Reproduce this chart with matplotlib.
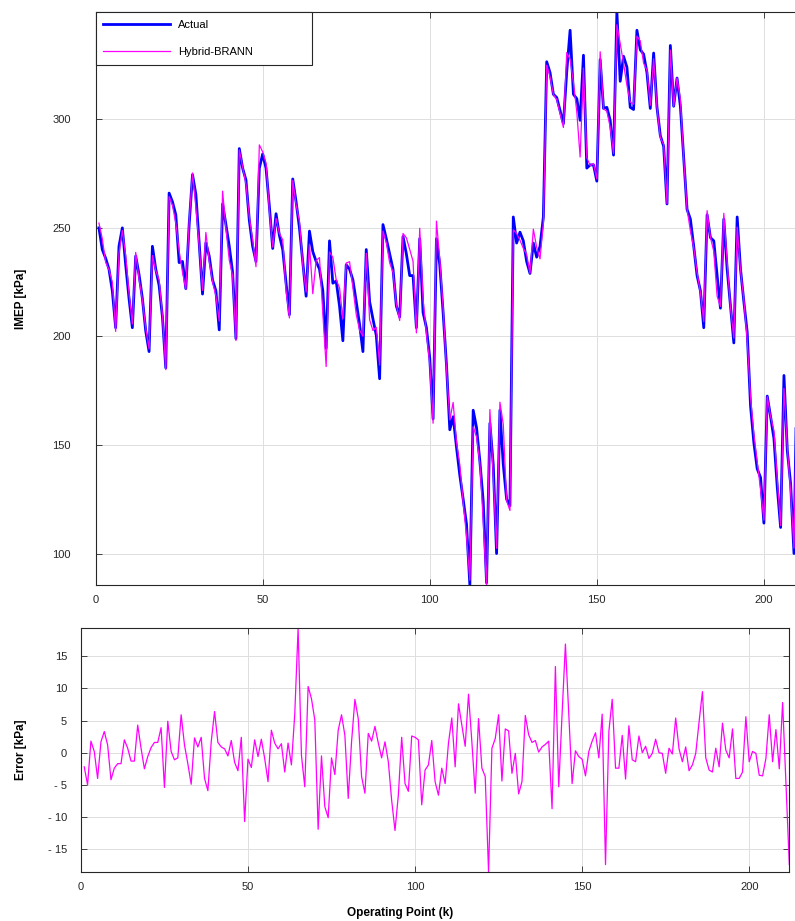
import numpy as np
import matplotlib.pyplot as plt

plt.rcParams['font.family'] = ['Liberation Sans', 'DejaVu Sans']

# measured IMEP per operating point [kPa]
actual_imep = [
    250, 240, 236, 231, 221, 204, 241.5, 250, 233, 217.5,
    204, 237, 228.5, 217.5, 202.5, 193, 241.5, 231, 223.5, 209,
    185.5, 266, 262, 256, 234, 234.5, 222, 251.5, 274.5, 265.5,
    243, 219.5, 243, 237, 226, 221, 203, 261, 251.5, 241.5,
    229.5, 199, 286.5, 277.5, 272, 253.5, 241.5, 234.5, 277.5, 284,
    277.5, 260, 240.5, 256.5, 246.5, 240, 224.5, 210, 272.5, 262,
    250, 234.5, 218.5, 248.5, 239, 234.5, 231, 221, 194.5, 244,
    224.5, 225.5, 214, 198, 233, 231, 226, 216, 205.5, 193,
    240, 216, 208, 200.5, 180.5, 251.5, 245, 238, 231, 214,
    209, 246, 238, 228, 228, 204, 245, 211, 204, 190,
    162, 245, 233, 211, 187, 157, 163, 149, 136, 125,
    113.5, 85.5, 166, 158, 142.5, 124, 86.5, 160, 141, 100,
    166, 141, 125, 122, 255, 243, 248, 244, 234.5, 229,
    243, 236.5, 241.5, 255, 326.5, 321.5, 311.5, 310, 304, 298,
    322, 341, 311.5, 309.5, 299.5, 329.5, 277.5, 279, 279, 271.5,
    327.5, 305, 305.5, 299.5, 283.5, 349.5, 317.5, 329, 324, 305.5,
    304.5, 341, 332, 330, 321.5, 305, 330.5, 305.5, 292.5, 287.5,
    261, 334, 306, 319, 306, 282.5, 258.5, 254, 241.5, 228,
    221, 204, 256, 245.5, 244, 228, 213, 254, 231, 214,
    197, 255, 231, 216, 202, 168, 151, 139, 135, 114,
    172.5, 163, 153, 130.5, 112, 182, 147.5, 132, 100, 195,
    168, 130,
]

# model error (actual - Hybrid-BRANN) [kPa]
error_kpa = [
    -2.2, -5.0, 1.8, 0.2, -4.0, 1.7, 3.3, 1.2, -4.2, -2.4,
    -1.7, -1.7, 2.0, 0.7, -1.3, -1.3, 4.3, 0.7, -2.5, -0.6,
    0.8, 1.6, 1.6, 3.9, -5.4, 4.9, 0.2, -1.1, -0.8, 5.9,
    1.2, -1.7, -4.9, 2.3, 0.9, 2.4, -4.0, -5.9, 1.7, 6.4,
    1.6, 0.9, 0.6, -0.5, 1.9, -1.5, -2.8, 2.4, -10.7, -1.0,
    -2.3, 2.0, -0.6, 2.1, -0.9, -4.5, 3.5, 1.5, 0.6, 1.4,
    -3.0, 1.5, -1.9, 6.0, 19.35, -0.4, -5.3, 10.3, 8.4, 5.1,
    -11.9, -0.5, -8.4, -10.1, -0.8, -3.4, 3.5, 5.9, 2.7, -7.1,
    1.7, 8.3, 5.3, -3.7, -6.3, 3.0, 1.8, 4.1, 1.5, -0.8,
    1.7, -1.4, -7.4, -12.1, -6.6, 2.4, -4.8, -6.0, 2.6, 2.4,
    2.0, -8.1, -2.7, -1.9, 1.9, -4.5, -6.6, -2.4, -4.8, 1.5,
    5.4, -2.2, 7.6, 4.3, 1.0, 9.1, 1.7, -6.3, 5.3, -2.4,
    -3.7, -18.55, 0.7, 2.2, 5.9, -4.4, 3.7, 3.4, -3.2, -0.1,
    -6.4, -4.5, 5.8, 2.8, 1.6, 1.9, 0.1, 0.9, 1.3, 1.8,
    -8.7, 13.4, -5.3, 6.0, 16.9, 5.9, -4.8, 0.3, -0.6, -1.0,
    -3.6, 0.2, 1.8, 3.1, -0.8, 6.0, -17.4, 3.3, 8.3, -2.4,
    -2.4, 2.7, -4.1, 4.2, -1.1, -1.4, 2.6, 0.0, 1.0, -0.9,
    -0.1, 2.1, 0.0, -0.1, -3.2, 0.7, -0.2, 5.4, 0.6, -1.4,
    0.9, -2.8, -1.9, -0.1, 4.8, 9.5, -0.8, -2.7, -3.0, 0.7,
    -2.2, 4.6, 0.4, -0.8, 3.7, -4.0, -4.0, -3.0, 5.6, -1.4,
    0.2, -0.1, -3.5, -3.6, -0.9, 5.9, -1.4, 3.6, -2.5, 7.8,
    -4.8, -17.4,
]

x_ticks = [0, 50, 100, 150, 200]
imep_ticks = [100, 150, 200, 250, 300]
err_ticks = [-15, -10, -5, 0, 5, 10, 15]
err_ticklabels = ['- 15', '- 10', '- 5', '0', '5', '10', '15']

actual = np.array(actual_imep)
err = np.array(error_kpa)
hybrid = actual - err
k = np.arange(1, len(actual) + 1)

W, H = 795, 921
AX_COL = '#262626'


def box(left, top, right, bottom):
    return [left / W, 1 - bottom / H, (right - left) / W, (bottom - top) / H]


def style(ax, ypad):
    ax.grid(True, color='#dedede', lw=0.7)
    ax.set_axisbelow(True)
    ax.tick_params(direction='in', top=True, right=True, length=4, width=0.6,
                   color=AX_COL, labelsize=8, labelcolor=AX_COL)
    ax.tick_params(axis='y', pad=ypad)
    ax.tick_params(axis='x', pad=7)
    for s in ax.spines.values():
        s.set_color(AX_COL)
        s.set_linewidth(0.8)


fig = plt.figure(figsize=(W / 100, H / 100), dpi=100)

# upper panel: IMEP, actual vs. model
ax1 = fig.add_axes(box(95.6, 11.8, 95.6 + 708.4, 585))
ax1.plot(k, actual, color='#0000ff', lw=2.0, label='Actual')
ax1.plot(k, hybrid, color='#ff00ff', lw=0.9, label='Hybrid-BRANN')
ax1.set_xlim(0, len(k))
ax1.set_ylim(actual.min(), actual.max())
ax1.set_xticks(x_ticks)
ax1.set_yticks(imep_ticks)
style(ax1, 18)
ax1.set_ylabel('IMEP [kPa]', fontsize=8.5, fontweight='bold')
ax1.yaxis.set_label_coords(-0.097, 0.5)
leg = ax1.legend(loc='upper left', bbox_to_anchor=(0, 0, 0.306, 1), mode='expand',
                 borderaxespad=0, fancybox=False, framealpha=1, edgecolor=AX_COL,
                 fontsize=8, handlelength=6, handletextpad=0.7,
                 labelspacing=1.6, borderpad=0.7)
leg.get_frame().set_linewidth(0.8)

# lower panel: prediction error
ax2 = fig.add_axes(box(80.9, 628.3, 789.3, 872))
ax2.plot(k, err, color='#ff00ff', lw=0.9)
ax2.set_xlim(0, len(k))
ax2.set_ylim(err.min(), err.max())
ax2.set_xticks(x_ticks)
ax2.set_yticks(err_ticks)
ax2.set_yticklabels(err_ticklabels)
style(ax2, 10)
ax2.set_ylabel('Error [kPa]', fontsize=8.5, fontweight='bold')
ax2.yaxis.set_label_coords(-0.076, 0.5)
ax2.set_xlabel('Operating Point (k)', fontsize=8.5, fontweight='bold')
ax2.xaxis.set_label_coords(0.45, -0.144)

fig.savefig('out.png', dpi=100)
